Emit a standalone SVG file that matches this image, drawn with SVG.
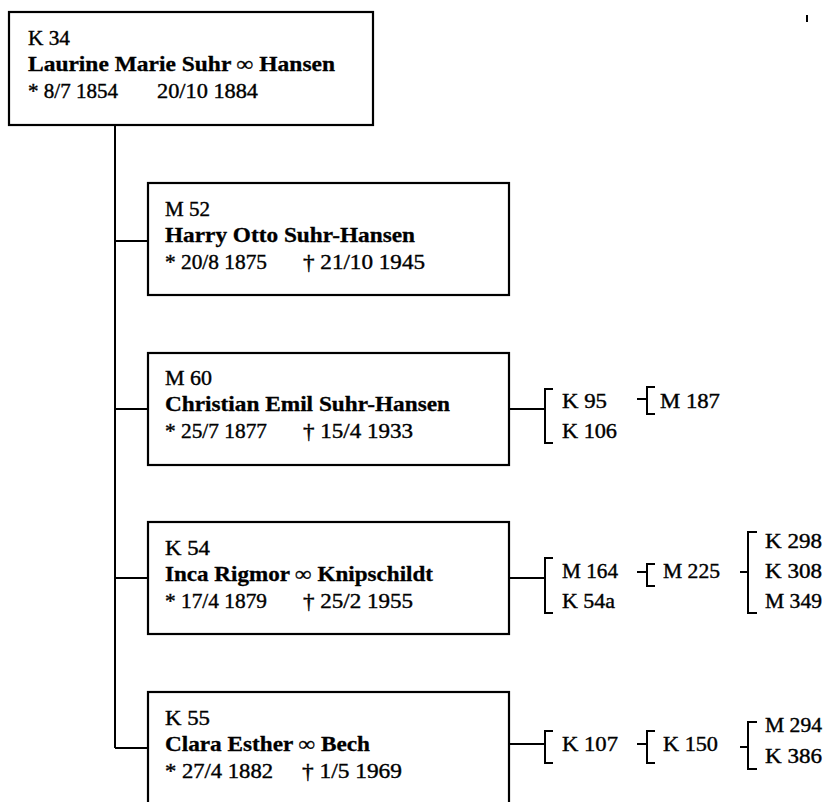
<svg xmlns="http://www.w3.org/2000/svg" width="825" height="802" viewBox="0 0 825 802">
<style>
.box{fill:#fff;stroke:#000;stroke-width:2.2}
.ln{fill:none;stroke:#000;stroke-width:2}
text{font-family:"Liberation Serif","Times New Roman",serif;font-size:21px;fill:#000;stroke:#000;stroke-width:0.4}
.b{font-weight:bold;stroke-width:0.3}
</style>
<rect width="825" height="802" fill="#fff"/>
<g id="connectors" class="ln">
  <path d="M115 125V748"/>
  <path d="M115 241H148M115 409H148M115 578H148M115 748H148"/>
  <path d="M509 409H545M553 389H545V443H553"/>
  <path d="M637 399H647M655 387H647V414H655"/>
  <path d="M509 578H545M553 558H545V613H553"/>
  <path d="M637 572H647M655 564H647V586H655"/>
  <path d="M740 572H748M757 532H748V613H757"/>
  <path d="M509 744H545M553 731H545V763H553"/>
  <path d="M637 744H647M655 731H647V763H655"/>
  <path d="M740 747H748M757 722H748V769H757"/>
</g>
<g id="K34">
  <rect class="box" x="9" y="12" width="364" height="113"/>
  <text x="28" y="45" textLength="42" lengthAdjust="spacingAndGlyphs">K 34</text>
  <text class="b" x="28" y="71" textLength="307" lengthAdjust="spacingAndGlyphs">Laurine Marie Suhr ∞ Hansen</text>
  <text x="28" y="98" textLength="90" lengthAdjust="spacingAndGlyphs">* 8/7 1854</text>
  <text x="157" y="98" textLength="101" lengthAdjust="spacingAndGlyphs">20/10 1884</text>
</g>
<g id="M52">
  <rect class="box" x="148" y="183" width="361" height="112"/>
  <text x="165" y="216" textLength="45" lengthAdjust="spacingAndGlyphs">M 52</text>
  <text class="b" x="165" y="242" textLength="250" lengthAdjust="spacingAndGlyphs">Harry Otto Suhr-Hansen</text>
  <text x="165" y="269" textLength="102" lengthAdjust="spacingAndGlyphs">* 20/8 1875</text>
  <text x="303" y="269" textLength="122" lengthAdjust="spacingAndGlyphs">† 21/10 1945</text>
</g>
<g id="M60">
  <rect class="box" x="148" y="353" width="361" height="112"/>
  <text x="165" y="385" textLength="47" lengthAdjust="spacingAndGlyphs">M 60</text>
  <text class="b" x="165" y="411" textLength="285" lengthAdjust="spacingAndGlyphs">Christian Emil Suhr-Hansen</text>
  <text x="165" y="438" textLength="102" lengthAdjust="spacingAndGlyphs">* 25/7 1877</text>
  <text x="303" y="438" textLength="110" lengthAdjust="spacingAndGlyphs">† 15/4 1933</text>
</g>
<g id="K54">
  <rect class="box" x="148" y="522" width="361" height="112"/>
  <text x="165" y="555" textLength="45" lengthAdjust="spacingAndGlyphs">K 54</text>
  <text class="b" x="165" y="581" textLength="268" lengthAdjust="spacingAndGlyphs">Inca Rigmor ∞ Knipschildt</text>
  <text x="165" y="608" textLength="102" lengthAdjust="spacingAndGlyphs">* 17/4 1879</text>
  <text x="303" y="608" textLength="110" lengthAdjust="spacingAndGlyphs">† 25/2 1955</text>
</g>
<g id="K55">
  <rect class="box" x="148" y="692" width="361" height="140"/>
  <text x="165" y="725" textLength="45" lengthAdjust="spacingAndGlyphs">K 55</text>
  <text class="b" x="165" y="751" textLength="205" lengthAdjust="spacingAndGlyphs">Clara Esther ∞ Bech</text>
  <text x="165" y="778" textLength="108" lengthAdjust="spacingAndGlyphs">* 27/4 1882</text>
  <text x="302" y="778" textLength="100" lengthAdjust="spacingAndGlyphs">† 1/5 1969</text>
</g>
<g id="K95"><text x="562" y="408" textLength="45" lengthAdjust="spacingAndGlyphs">K 95</text></g>
<g id="K106"><text x="562" y="438" textLength="55" lengthAdjust="spacingAndGlyphs">K 106</text></g>
<g id="M187"><text x="660" y="408" textLength="60" lengthAdjust="spacingAndGlyphs">M 187</text></g>
<g id="M164"><text x="562" y="578" textLength="56" lengthAdjust="spacingAndGlyphs">M 164</text></g>
<g id="K54a"><text x="562" y="608" textLength="53" lengthAdjust="spacingAndGlyphs">K 54a</text></g>
<g id="M225"><text x="663" y="578" textLength="57" lengthAdjust="spacingAndGlyphs">M 225</text></g>
<g id="K298"><text x="765" y="548" textLength="57" lengthAdjust="spacingAndGlyphs">K 298</text></g>
<g id="K308"><text x="765" y="578" textLength="57" lengthAdjust="spacingAndGlyphs">K 308</text></g>
<g id="M349"><text x="765" y="608" textLength="57" lengthAdjust="spacingAndGlyphs">M 349</text></g>
<g id="K107"><text x="562" y="751" textLength="56" lengthAdjust="spacingAndGlyphs">K 107</text></g>
<g id="K150"><text x="663" y="751" textLength="55" lengthAdjust="spacingAndGlyphs">K 150</text></g>
<g id="M294"><text x="765" y="732" textLength="57" lengthAdjust="spacingAndGlyphs">M 294</text></g>
<g id="K386"><text x="765" y="763" textLength="57" lengthAdjust="spacingAndGlyphs">K 386</text></g>
<line x1="807" y1="15" x2="807" y2="22" stroke="#000" stroke-width="2"/>
</svg>
